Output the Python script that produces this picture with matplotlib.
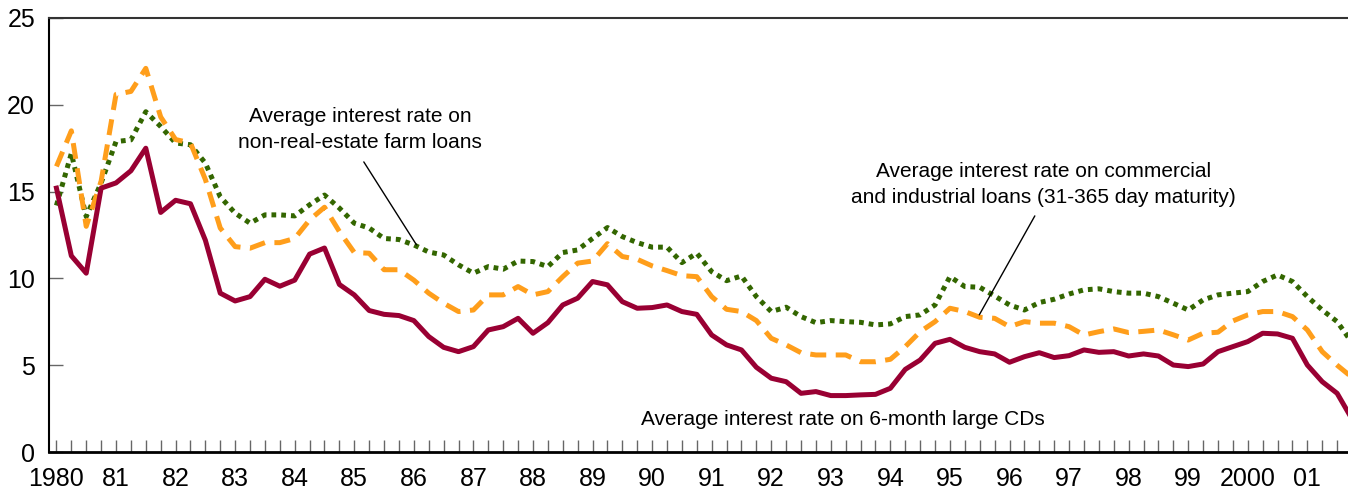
import numpy as np
import matplotlib.pyplot as plt

# quarterly rates, 1980Q1 .. 2001Q4 (percent)
cd_rate = [15.2, 11.3, 10.3, 15.2, 15.5, 16.2, 17.5, 13.8, 14.5, 14.3, 12.2, 9.15,
           8.7, 8.95, 9.95, 9.55, 9.9, 11.4, 11.75, 9.65, 9.05, 8.15, 7.93, 7.86,
           7.57, 6.65, 6.03, 5.78, 6.07, 7.03, 7.22, 7.7, 6.84, 7.45, 8.47, 8.86,
           9.82, 9.63, 8.66, 8.28, 8.32, 8.47, 8.09, 7.93, 6.74, 6.17, 5.88, 4.88,
           4.25, 4.05, 3.38, 3.48, 3.25, 3.25, 3.29, 3.32, 3.67, 4.76, 5.3, 6.26,
           6.49, 6.03, 5.78, 5.65, 5.17, 5.49, 5.72, 5.44, 5.55, 5.88, 5.74, 5.78,
           5.53, 5.65, 5.53, 5.01, 4.92, 5.07, 5.78, 6.07, 6.36, 6.84, 6.8, 6.55,
           5.01, 4.05, 3.38, 1.9]

ci_rate = [16.45, 18.5, 13.0, 15.6, 20.6, 20.77, 22.1, 19.3, 18.0, 17.8, 15.7, 12.9,
           11.83, 11.74, 12.06, 12.06, 12.3, 13.37, 14.1, 12.7, 11.49, 11.45, 10.5, 10.5,
           9.9, 9.15, 8.57, 8.09, 8.18, 9.05, 9.05, 9.53, 9.05, 9.24, 10.1, 10.88,
           11.0, 12.0, 11.26, 11.1, 10.72, 10.45, 10.16, 10.1, 8.95, 8.22, 8.09, 7.57,
           6.55, 6.17, 5.72, 5.59, 5.59, 5.59, 5.2, 5.2, 5.34, 6.07, 6.93, 7.51,
           8.28, 8.09, 7.76, 7.7, 7.22, 7.51, 7.42, 7.42, 7.22, 6.74, 6.93, 7.09,
           6.88, 6.95, 7.03, 6.75, 6.45, 6.84, 6.9, 7.55, 7.9, 8.09, 8.09, 7.8,
           7.03, 5.78, 5.0, 4.3]

farm_rate = [14.2, 17.2, 13.56, 15.5, 17.88, 17.98, 19.6, 18.75, 17.8, 17.7, 16.64, 14.7,
             13.76, 13.18, 13.66, 13.66, 13.6, 14.24, 14.8, 14.05, 13.18, 12.9, 12.3, 12.24,
             11.93, 11.52, 11.35, 10.78, 10.3, 10.68, 10.53, 11.0, 10.97, 10.68, 11.49, 11.64,
             12.3, 12.93, 12.41, 12.06, 11.8, 11.8, 10.91, 11.45, 10.39, 9.87, 10.14, 8.95,
             8.09, 8.34, 7.8, 7.45, 7.57, 7.51, 7.47, 7.32, 7.38, 7.8, 7.9, 8.47,
             10.1, 9.53, 9.49, 8.99, 8.47, 8.18, 8.61, 8.8, 9.1, 9.34, 9.4, 9.24,
             9.15, 9.15, 8.95, 8.57, 8.18, 8.76, 9.05, 9.15, 9.24, 9.82, 10.2, 9.82,
             8.95, 8.18, 7.51, 6.3]

year_labels = ['1980', '81', '82', '83', '84', '85', '86', '87', '88', '89', '90',
               '91', '92', '93', '94', '95', '96', '97', '98', '99', '2000', '01']

plt.rcParams['font.family'] = ['Liberation Sans', 'DejaVu Sans']

fig = plt.figure(figsize=(13.48, 4.91), dpi=100)
ax = fig.add_axes([49/1348, 1 - 452/491, (1348 - 49)/1348, (452 - 18)/491])

q = np.arange(len(cd_rate))
ax.plot(q, farm_rate, color='#336600', lw=3.6, dashes=(0.95, 1.0), dash_capstyle='butt')
ax.plot(q, ci_rate, color='#ff9e1b', lw=3.6, dashes=(3.2, 1.9), dash_capstyle='butt')
ax.plot(q, cd_rate, color='#990033', lw=3.6)

ax.set_xlim(-0.5, 86.73)
ax.set_ylim(0, 25)
ax.set_yticks([0, 5, 10, 15, 20, 25])
ax.set_xticks(np.arange(0, len(year_labels) * 4, 4))
ax.set_xticklabels(year_labels)
ax.set_xticks(np.arange(0, 87), minor=True)

ax.tick_params(axis='y', direction='in', length=10, width=1, color='#666666',
               labelsize=18, pad=10)
ax.tick_params(axis='x', which='both', direction='in', length=9, width=1,
               color='#666666', labelsize=18, pad=11)

ax.spines['right'].set_visible(False)
ax.spines['left'].set_linewidth(1.5)
ax.spines['bottom'].set_linewidth(2)
ax.spines['top'].set_linewidth(1.5)
ax.spines['top'].set_color('#333333')

note_style = dict(ha='center', va='center', fontsize=15, multialignment='center',
                  linespacing=1.45)
leader = dict(arrowstyle='-', color='black', lw=1, shrinkA=0, shrinkB=0)

ax.text(20.4, 18.56, 'Average interest rate on\nnon-real-estate farm loans', **note_style)
ax.annotate('', xy=(24.18, 11.93), xytext=(20.64, 16.71), arrowprops=leader)

ax.text(66.3, 15.42,
        'Average interest rate on commercial\nand industrial loans (31-365 day maturity)',
        **note_style)
ax.annotate('', xy=(61.97, 7.9), xytext=(65.7, 13.6), arrowprops=leader)

ax.text(52.8, 1.9, 'Average interest rate on 6-month large CDs',
        ha='center', va='center', fontsize=15)

fig.savefig('out.png', dpi=100)
